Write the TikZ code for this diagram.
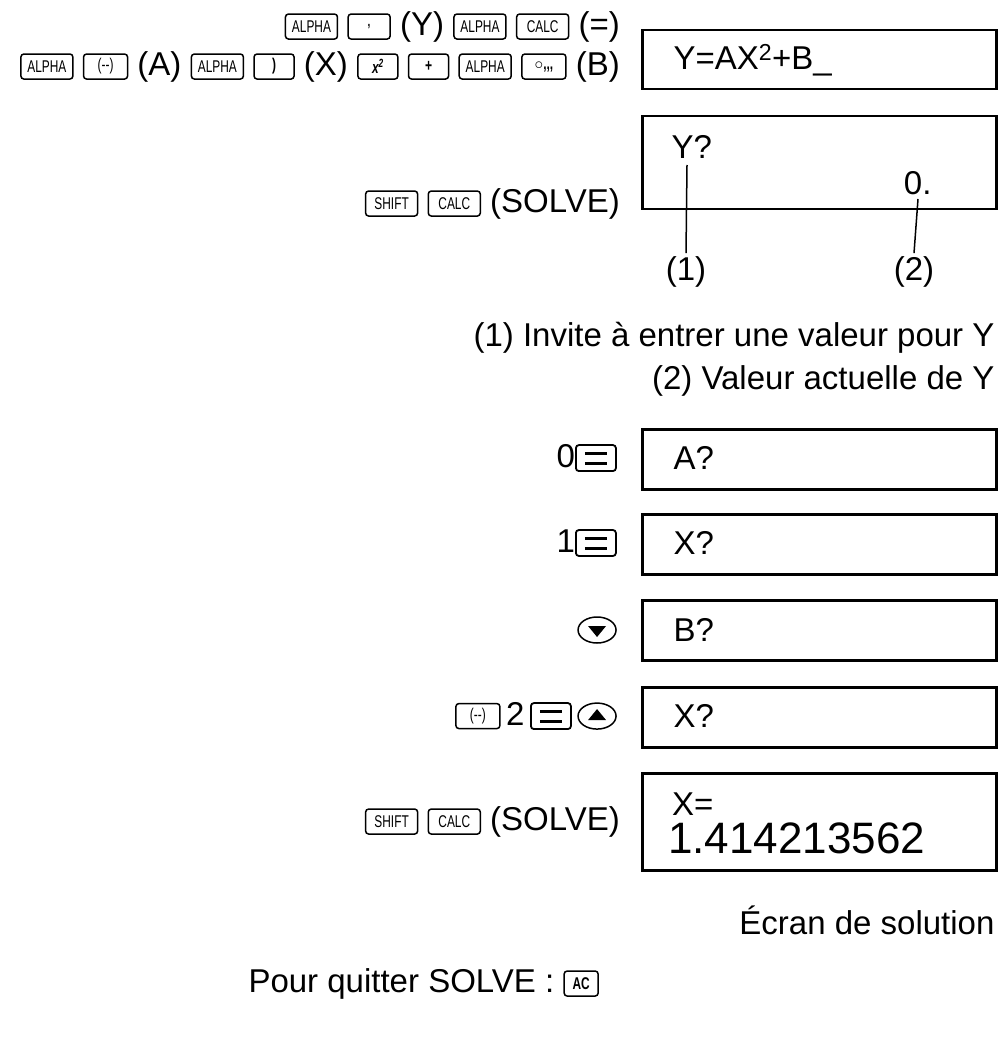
\documentclass[tikz,border=0pt]{standalone}
\usepackage{fontspec}
\setmainfont{Liberation Sans}
\newfontfamily\keyfont[FakeStretch=0.7]{Liberation Sans}
\usetikzlibrary{positioning,shapes.geometric}
\newcommand\kb[2][36pt]{\tikz[baseline=-9pt,x=1pt,y=1pt]\node[draw,line width=1.5pt,rounded corners=3pt,minimum width=#1,minimum height=25pt,inner sep=1.5pt,font=\fontsize{17}{17}\keyfont]{#2};}
\newcommand\arrkey[1]{\tikz[baseline=-9pt,x=1pt,y=1pt]{\draw[line width=1.5pt] (0,0) ellipse (19pt and 13pt);\fill #1;}}
\newcommand\upk{\arrkey{(-9,-4)--(9,-4)--(0,7)--cycle}}
\newcommand\dnk{\arrkey{(-9,4)--(9,4)--(0,-7)--cycle}}
\newcommand\eqk{\tikz[baseline=-9pt,x=1pt,y=1pt]{\draw[line width=1.8pt,rounded corners=3pt] (-20,-13) rectangle (20,13);\draw[line width=3pt] (-11,5)--(11,5) (-11,-5)--(11,-5);}}
\begin{document}
\begin{tikzpicture}[x=1pt,y=-1pt,font=\fontsize{33}{36}\selectfont,
  screen/.style={draw,line width=2.5pt,minimum width=354pt,anchor=north west,inner sep=0pt},
  keys/.style={anchor=east,inner sep=0pt}]
\useasboundingbox (0,0) rectangle (999,1048);
% key sequences
\node[keys] (seqa) at (620,27) {\kb[52pt]{ALPHA} \kb[42pt]{\bfseries\Large,} (Y) \kb[52pt]{ALPHA} \kb[52pt]{CALC} (=)};
\node[keys] (seqb) at (620,67) {\kb[52pt]{ALPHA} \kb[44pt]{(--)} (A) \kb[52pt]{ALPHA} \kb[40pt]{\bfseries)} (X) \kb[40pt]{\itshape\bfseries x\textsuperscript{2}} \kb[40pt]{\bfseries\LARGE +} \kb[52pt]{ALPHA} \kb[44pt]{\bfseries$\circ$,,,} (B)};
\node[keys] (seqc) at (620,204) {\kb[52pt]{SHIFT} \kb[52pt]{CALC} (SOLVE)};
\node[keys] (seqd) at (617,458) {0\eqk};
\node[keys] (seqe) at (617,543) {1\eqk};
\node[keys] (seqf) at (617,630) {\dnk};
\node[keys] (seqg) at (617,716) {\kb[44pt]{(--)}\,2\,\eqk\,\upk};
\node[keys] (seqh) at (620,822) {\kb[52pt]{SHIFT} \kb[52pt]{CALC} (SOLVE)};
% screens
\node[screen,minimum height=59pt] (scra) at (641,29) {};
\node[anchor=west] at (670,60) {Y=AX\textsuperscript{2}+B\_};
\node[screen,minimum height=93pt] (scrb) at (641,115) {};
\node[anchor=west] (ypr) at (668,147) {Y?};
\node[anchor=east] (yval) at (935,183) {0.};
\coordinate (ca) at (687,165);
\coordinate (cb) at (918,199);
\node (lba) at (686,272) {(1)};
\node (lbb) at (914,272) {(2)};
\draw[line width=1.5pt] (ca) -- (lba.north);
\draw[line width=1.5pt] (cb) -- (lbb.north);
\node[anchor=east] (nta) at (998,338) {(1) Invite à entrer une valeur pour Y};
\node[anchor=east] (ntb) at (998,381) {(2) Valeur actuelle de Y};
\node[screen,minimum height=60pt] (scrc) at (641,428) {};
\node[anchor=west] at (670,458) {A?};
\node[screen,minimum height=60pt] (scrd) at (641,513) {};
\node[anchor=west] at (670,543) {X?};
\node[screen,minimum height=60pt] (scre) at (641,599) {};
\node[anchor=west] at (670,630) {B?};
\node[screen,minimum height=60pt] (scrf) at (641,686) {};
\node[anchor=west] at (670,716) {X?};
\node[screen,minimum height=97pt] (scrg) at (641,772) {};
\node[anchor=west,inner sep=0pt] at (672,804) {X=};
\node[anchor=west,inner sep=0pt,font=\fontsize{44}{46}\selectfont] at (668,838) {1.414213562};
\node[anchor=east] (ntc) at (998,920) {Écran de solution};
\node[anchor=west] (ntd) at (245,984) {Pour quitter SOLVE : \kb[34pt]{\bfseries AC}};
\end{tikzpicture}
\end{document}
